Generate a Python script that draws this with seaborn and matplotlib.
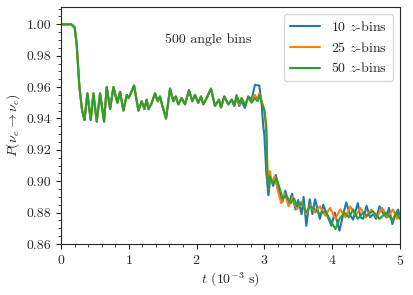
import pandas as pd
import matplotlib
matplotlib.use("Agg")
import matplotlib.pyplot as plt
import seaborn as sns
from matplotlib.ticker import AutoMinorLocator

# shared part of the curve (all three runs coincide before t ~ 2.55)
t_early = [0.00, 0.15, 0.20, 0.23, 0.27, 0.31, 0.345, 0.388, 0.437, 0.477,
           0.526, 0.575, 0.634, 0.673, 0.723, 0.772, 0.831, 0.870, 0.919, 0.968,
           0.995, 1.018, 1.077, 1.141, 1.190, 1.230, 1.263, 1.290, 1.330, 1.386,
           1.426, 1.460, 1.495, 1.549, 1.608, 1.657, 1.692, 1.730, 1.780, 1.829,
           1.888, 1.937, 1.976, 2.025, 2.065, 2.099, 2.149, 2.212, 2.271, 2.330,
           2.360, 2.409, 2.468, 2.520, 2.555]
p_early = [1.000, 1.000, 0.998, 0.987, 0.960, 0.945, 0.939, 0.956, 0.939, 0.956,
           0.938, 0.956, 0.938, 0.960, 0.946, 0.960, 0.950, 0.957, 0.945, 0.955,
           0.953, 0.955, 0.961, 0.945, 0.951, 0.946, 0.952, 0.946, 0.949, 0.956,
           0.951, 0.954, 0.948, 0.940, 0.959, 0.951, 0.954, 0.949, 0.953, 0.949,
           0.958, 0.951, 0.955, 0.950, 0.954, 0.949, 0.953, 0.959, 0.948, 0.952,
           0.947, 0.954, 0.949, 0.952, 0.948]

# 10 z-bins
t_10 = [2.59, 2.63, 2.665, 2.714, 2.763, 2.812, 2.861, 2.925, 2.96, 2.984,
        3.00, 3.03, 3.06, 3.09, 3.13, 3.17, 3.22, 3.27, 3.31, 3.36,
        3.41, 3.46, 3.50, 3.55, 3.58, 3.62, 3.67, 3.71, 3.75, 3.82,
        3.87, 3.93, 3.99, 4.04, 4.11, 4.16, 4.21, 4.26, 4.31, 4.38,
        4.42, 4.46, 4.51, 4.56, 4.61, 4.65, 4.70, 4.75, 4.80, 4.84,
        4.89, 4.93, 4.975, 5.00]
p_10 = [0.953, 0.948, 0.951, 0.9466, 0.954, 0.952, 0.9614, 0.961, 0.950, 0.935,
        0.930, 0.905, 0.891, 0.903, 0.897, 0.904, 0.893, 0.887, 0.894, 0.885,
        0.892, 0.882, 0.888, 0.879, 0.890, 0.8716, 0.8885, 0.879, 0.8885, 0.876,
        0.885, 0.878, 0.8716, 0.880, 0.8685, 0.878, 0.8865, 0.879, 0.8755, 0.886,
        0.877, 0.876, 0.8843, 0.877, 0.879, 0.876, 0.884, 0.880, 0.877, 0.883,
        0.8727, 0.878, 0.882, 0.877]

# 25 z-bins
t_25 = [2.59, 2.63, 2.665, 2.714, 2.763, 2.812, 2.86, 2.90, 2.925, 2.96,
        3.00, 3.03, 3.05, 3.083, 3.11, 3.15, 3.20, 3.25, 3.30, 3.36,
        3.42, 3.48, 3.55, 3.62, 3.68, 3.75, 3.82, 3.90, 3.97, 4.05,
        4.12, 4.20, 4.27, 4.35, 4.42, 4.50, 4.58, 4.66, 4.74, 4.82,
        4.90, 4.96, 5.00]
p_25 = [0.954, 0.949, 0.953, 0.949, 0.953, 0.951, 0.955, 0.952, 0.956, 0.951,
        0.946, 0.930, 0.900, 0.9065, 0.899, 0.903, 0.894, 0.886, 0.892, 0.884,
        0.890, 0.882, 0.887, 0.879, 0.885, 0.880, 0.884, 0.878, 0.883, 0.876,
        0.882, 0.877, 0.884, 0.878, 0.883, 0.877, 0.882, 0.877, 0.883, 0.877,
        0.882, 0.876, 0.878]

# 50 z-bins
t_50 = [2.59, 2.63, 2.665, 2.714, 2.763, 2.812, 2.86, 2.90, 2.925, 2.96,
        3.00, 3.03, 3.045, 3.06, 3.083, 3.13, 3.18, 3.23, 3.27, 3.32,
        3.39, 3.44, 3.48, 3.55, 3.62, 3.67, 3.75, 3.82, 3.90, 3.99,
        4.05, 4.11, 4.18, 4.25, 4.31, 4.38, 4.46, 4.51, 4.60, 4.70,
        4.80, 4.89, 4.95, 5.00]
p_50 = [0.955, 0.950, 0.953, 0.948, 0.954, 0.950, 0.953, 0.951, 0.955, 0.950,
        0.9455, 0.935, 0.905, 0.895, 0.903, 0.898, 0.902, 0.895, 0.889, 0.891,
        0.886, 0.889, 0.884, 0.886, 0.880, 0.884, 0.882, 0.879, 0.881, 0.874,
        0.8695, 0.876, 0.880, 0.877, 0.882, 0.876, 0.880, 0.878, 0.881, 0.876,
        0.880, 0.875, 0.880, 0.876]

labels = [r"10 $z$-bins", r"25 $z$-bins", r"50 $z$-bins"]


def build_frame():
    """Long-format table: shared early curve + per-run tail."""
    frames = []
    for lab, tt, pp in zip(labels, [t_10, t_25, t_50], [p_10, p_25, p_50]):
        frames.append(pd.DataFrame({"t": t_early + tt, "P": p_early + pp, "run": lab}))
    return pd.concat(frames, ignore_index=True)


sns.set_style("ticks")
plt.rcParams["font.family"] = "serif"
plt.rcParams["font.serif"] = ["cmr10", "DejaVu Serif"]
plt.rcParams["mathtext.fontset"] = "cm"
plt.rcParams["axes.formatter.use_mathtext"] = True
plt.rcParams["font.size"] = 10

df = build_frame()

fig, ax = plt.subplots(figsize=(4.13, 2.95), dpi=100)
sns.lineplot(data=df, x="t", y="P", hue="run", palette=["#1f77b4", "#ff7f0e", "#2ca02c"],
             sort=False, estimator=None, linewidth=1.5, ax=ax)

ax.set_xlim(0, 5)
ax.set_ylim(0.86, 1.011)
ax.set_yticks([0.86, 0.88, 0.90, 0.92, 0.94, 0.96, 0.98, 1.00])
ax.set_yticklabels(["0.86", "0.88", "0.90", "0.92", "0.94", "0.96", "0.98", "1.00"])
ax.xaxis.set_minor_locator(AutoMinorLocator(5))
ax.yaxis.set_minor_locator(AutoMinorLocator(4))
ax.tick_params(which="major", direction="out", length=3.5, width=0.8, labelsize=10)
ax.tick_params(which="minor", direction="out", length=2, width=0.6)
for s in ax.spines.values():
    s.set_visible(True)
    s.set_linewidth(0.8)

ax.set_xlabel(r"$t$ ($10^{-3}$ s)", fontsize=10, labelpad=2)
ax.set_ylabel(r"$P(\nu_e \to \nu_e)$", fontsize=10, labelpad=3)
ax.text(2.17, 0.99, "500 angle bins", ha="center", va="center", fontsize=10)

handles, labs = ax.get_legend_handles_labels()
ax.legend(handles, labs, loc="upper right", fontsize=10, handlelength=2.2)

fig.subplots_adjust(left=0.148, right=0.968, top=0.976, bottom=0.173)
fig.savefig("out.png", dpi=100)
